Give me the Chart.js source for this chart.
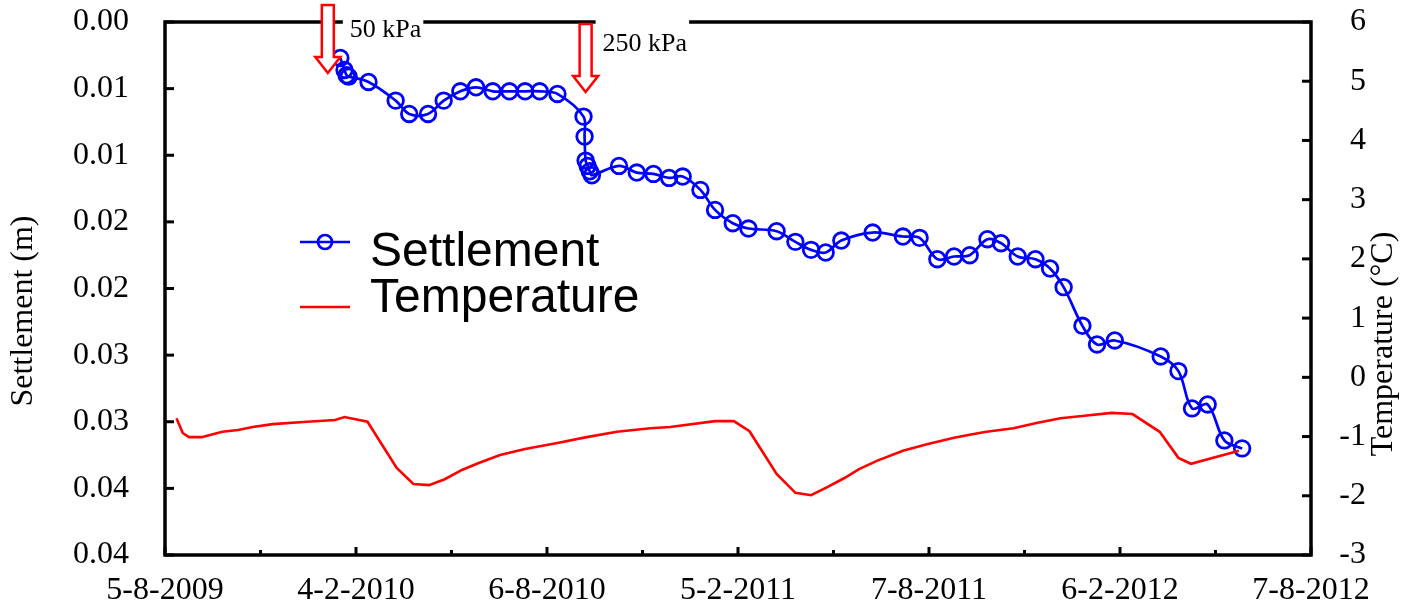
<!DOCTYPE html>
<html>
<head>
<meta charset="utf-8">
<script src="https://cdn.jsdelivr.net/npm/chart.js@4/dist/chart.umd.min.js"></script>
<style>
  html, body { margin: 0; padding: 0; background: #ffffff; }
  canvas { display: block; }
</style>
</head>
<body>
<canvas id="chart" width="1406" height="609"></canvas>
<script>
// ---- Data ---------------------------------------------------------------
const axisStart = '2009-08-05';
const axisEnd = '2012-08-07';
const xTickLabels = ['5-8-2009', '4-2-2010', '6-8-2010', '5-2-2011', '7-8-2011', '6-2-2012', '7-8-2012'];
const settlementTickLabels = ['0.00', '0.01', '0.01', '0.02', '0.02', '0.03', '0.03', '0.04', '0.04'];
const settlementStep = 0.005;

const settlementDates = [
  '2010-01-20', '2010-01-24', '2010-01-26', '2010-01-28', '2010-02-16', '2010-03-14', '2010-03-27',
  '2010-04-14', '2010-04-29', '2010-05-15', '2010-05-30', '2010-06-15', '2010-07-01', '2010-07-16',
  '2010-07-30', '2010-08-16', '2010-09-10', '2010-09-11', '2010-09-12', '2010-09-14', '2010-09-16',
  '2010-09-18', '2010-10-14', '2010-10-31', '2010-11-16', '2010-12-01', '2010-12-14', '2010-12-31',
  '2011-01-14', '2011-01-31', '2011-02-15', '2011-03-14', '2011-04-01', '2011-04-16', '2011-04-30',
  '2011-05-15', '2011-06-14', '2011-07-13', '2011-07-29', '2011-08-15', '2011-08-31', '2011-09-15',
  '2011-10-02', '2011-10-15', '2011-10-31', '2011-11-17', '2011-12-01', '2011-12-14', '2012-01-01',
  '2012-01-15', '2012-02-01', '2012-03-16', '2012-04-02', '2012-04-15', '2012-04-30', '2012-05-16',
  '2012-06-02'
];
const settlementValues = [
  0.0027, 0.0036, 0.0040, 0.0041, 0.0045, 0.0059, 0.0069,
  0.0069, 0.0059, 0.0052, 0.0049, 0.0052, 0.0052, 0.0052,
  0.0052, 0.0054, 0.0071, 0.0086, 0.0104, 0.0108, 0.0112,
  0.0115, 0.0108, 0.0113, 0.0114, 0.0117, 0.0116, 0.0126,
  0.0141, 0.0151, 0.0155, 0.0157, 0.0165, 0.0171, 0.0173,
  0.0164, 0.0158, 0.0161, 0.0162, 0.0178, 0.0176, 0.0175,
  0.0163, 0.0166, 0.0176, 0.0178, 0.0185, 0.0199, 0.0228,
  0.0242, 0.0239, 0.0251, 0.0262, 0.0290, 0.0287, 0.0314,
  0.0320
];

const temperatureDates = [
  '2009-08-16', '2009-08-22', '2009-08-28', '2009-09-09', '2009-09-29', '2009-10-14', '2009-10-28',
  '2009-11-16', '2009-12-19', '2010-01-15', '2010-01-24', '2010-02-15', '2010-03-15', '2010-03-31',
  '2010-04-15', '2010-04-30', '2010-05-17', '2010-06-01', '2010-06-22', '2010-07-16', '2010-08-16',
  '2010-09-13', '2010-10-12', '2010-11-13', '2010-12-02', '2011-01-14', '2011-02-01', '2011-02-16',
  '2011-03-14', '2011-04-01', '2011-04-16', '2011-05-02', '2011-05-18', '2011-06-01', '2011-06-18',
  '2011-07-13', '2011-08-05', '2011-08-31', '2011-09-15', '2011-10-01', '2011-10-27', '2011-11-18',
  '2011-12-11', '2012-01-03', '2012-01-29', '2012-02-18', '2012-03-15', '2012-04-02', '2012-04-14',
  '2012-05-30'
];
const temperatureValues = [
  -0.69, -0.94, -1.01, -1.01, -0.92, -0.89, -0.84,
  -0.79, -0.75, -0.72, -0.67, -0.75, -1.53, -1.80,
  -1.82, -1.72, -1.56, -1.45, -1.31, -1.21, -1.11,
  -1.01, -0.92, -0.86, -0.84, -0.74, -0.74, -0.91,
  -1.63, -1.95, -1.99, -1.85, -1.70, -1.55, -1.41,
  -1.24, -1.13, -1.02, -0.97, -0.92, -0.86, -0.77,
  -0.69, -0.65, -0.60, -0.62, -0.92, -1.36, -1.46,
  -1.24
];

// Load increments applied to the foundation
const loadLabels = ['50 kPa', '250 kPa'];
const loadDates = ['2010-01-08', '2010-09-12'];

// ---- Helpers ------------------------------------------------------------
const DAY_MS = 86400000;
const dayOf = d => Math.round((Date.parse(d) - Date.parse(axisStart)) / DAY_MS);
const axisSpan = dayOf(axisEnd);                  // 1098 days
const halfStep = axisSpan / ((xTickLabels.length - 1) * 2);

const settlementPoints = settlementDates.map((d, i) => ({ x: dayOf(d), y: settlementValues[i] }));
const temperaturePoints = temperatureDates.map((d, i) => ({ x: dayOf(d), y: temperatureValues[i] }));

const SERIF = '"Liberation Serif", "Times New Roman", serif';
const SANS = '"Liberation Sans", Arial, sans-serif';
const BLUE = '#0000ff';
const RED = '#ff0000';

// fixed scale sizes, no label overhang padding
const fixSize = (w, h) => s => {
  if (w !== null) s.width = w;
  if (h !== null) s.height = h;
  s.paddingTop = 0; s.paddingBottom = 0; s.paddingLeft = 0; s.paddingRight = 0;
};

// Plot frame with inward tick marks
const framePlugin = {
  id: 'frame',
  beforeDatasetsDraw(chart) {
    const { ctx, chartArea: a, scales } = chart;
    const seg = (x1, y1, x2, y2) => { ctx.beginPath(); ctx.moveTo(x1, y1); ctx.lineTo(x2, y2); ctx.stroke(); };
    ctx.save();
    ctx.strokeStyle = '#000';
    ctx.lineWidth = 3;
    scales.x.ticks.forEach((t, i) => {
      const x = scales.x.getPixelForValue(t.value);
      seg(x, a.bottom, x, a.bottom - (i % 2 === 0 ? 8 : 5));
    });
    scales.y.ticks.forEach(t => {
      const y = scales.y.getPixelForValue(t.value);
      seg(a.left, y, a.left + 9, y);
    });
    scales.y1.ticks.forEach(t => {
      const y = scales.y1.getPixelForValue(t.value);
      seg(a.right, y, a.right - 9, y);
    });
    ctx.lineWidth = 3.5;
    ctx.lineJoin = 'miter';
    ctx.strokeRect(a.left, a.top, a.right - a.left, a.bottom - a.top);
    ctx.restore();
  }
};

// Axis titles, legend and load markers
const overlayPlugin = {
  id: 'overlay',
  afterDraw(chart) {
    const { ctx, chartArea: a, scales } = chart;
    ctx.save();

    // axis titles
    ctx.fillStyle = '#000';
    ctx.font = '32px ' + SERIF;
    ctx.textAlign = 'center';
    ctx.textBaseline = 'middle';
    ctx.save();
    ctx.translate(24, 311);
    ctx.rotate(-Math.PI / 2);
    ctx.fillText('Settlement (m)', 0, 0);
    ctx.restore();
    ctx.save();
    ctx.translate(1384, 344);
    ctx.rotate(-Math.PI / 2);
    ctx.fillText('Temperature (\u00B0C)', 0, 0);
    ctx.restore();

    // legend
    const lx = a.left + 135;
    ctx.lineWidth = 2.7;
    ctx.strokeStyle = BLUE;
    ctx.beginPath(); ctx.moveTo(lx, 242); ctx.lineTo(lx + 50, 242); ctx.stroke();
    ctx.beginPath(); ctx.arc(lx + 25, 242, 7, 0, Math.PI * 2); ctx.stroke();
    ctx.strokeStyle = RED;
    ctx.lineWidth = 2.5;
    ctx.beginPath(); ctx.moveTo(lx, 307); ctx.lineTo(lx + 50, 307); ctx.stroke();
    ctx.font = '48px ' + SANS;
    ctx.textAlign = 'left';
    ctx.textBaseline = 'alphabetic';
    ctx.fillStyle = '#000';
    ctx.fillText('Settlement', lx + 70, 266);
    ctx.fillText('Temperature', lx + 70, 312);

    // load arrows with labels
    const arrowTops = [-17, 2];
    const textY = [30, 44];
    const textGap = [22, 17];
    loadLabels.forEach((label, i) => {
      const x = scales.x.getPixelForValue(dayOf(loadDates[i]));
      const top = a.top + arrowTops[i];
      ctx.font = '26px ' + SERIF;
      const w = ctx.measureText(label).width;
      // label box breaking the top frame line
      ctx.fillStyle = '#fff';
      ctx.fillRect(x + textGap[i] - 7, a.top - 6, w + 9, textY[i] - a.top + 18);
      ctx.fillStyle = '#000';
      ctx.textBaseline = 'middle';
      ctx.fillText(label, x + textGap[i], textY[i]);
      // hollow arrow
      const sw = 6, hw = 12.5, shaftLen = 52, headLen = 16;
      ctx.beginPath();
      ctx.moveTo(x - sw, top);
      ctx.lineTo(x + sw, top);
      ctx.lineTo(x + sw, top + shaftLen);
      ctx.lineTo(x + hw, top + shaftLen);
      ctx.lineTo(x, top + shaftLen + headLen);
      ctx.lineTo(x - hw, top + shaftLen);
      ctx.lineTo(x - sw, top + shaftLen);
      ctx.closePath();
      ctx.fillStyle = '#fff';
      ctx.fill();
      ctx.lineWidth = 2.5;
      ctx.strokeStyle = RED;
      ctx.lineJoin = 'miter';
      ctx.stroke();
    });
    ctx.restore();
  }
};

new Chart(document.getElementById('chart'), {
  type: 'line',
  data: {
    datasets: [
      {
        label: 'Temperature',
        data: temperaturePoints,
        yAxisID: 'y1',
        borderColor: RED,
        borderWidth: 2.6,
        pointRadius: 0,
        tension: 0,
        fill: false,
        order: 0
      },
      {
        label: 'Settlement',
        data: settlementPoints,
        yAxisID: 'y',
        borderColor: BLUE,
        borderWidth: 2.7,
        pointStyle: 'circle',
        pointRadius: 7.8,
        pointBorderWidth: 2.8,
        pointBorderColor: BLUE,
        pointBackgroundColor: 'rgba(0,0,0,0)',
        tension: 0.35,
        fill: false,
        order: 1
      }
    ]
  },
  options: {
    responsive: false,
    animation: false,
    devicePixelRatio: 1,
    layout: { autoPadding: false, padding: { top: 22, right: 40, bottom: 0, left: 0 } },
    plugins: {
      legend: { display: false },
      tooltip: { enabled: false }
    },
    scales: {
      x: {
        type: 'linear',
        min: 0,
        max: axisSpan,
        grid: { display: false, drawTicks: false },
        border: { display: false },
        ticks: {
          stepSize: halfStep,
          autoSkip: false,
          maxRotation: 0,
          padding: 16,
          color: '#000',
          font: { family: SERIF, size: 32 },
          callback: (v, i) => (i % 2 === 0 ? xTickLabels[i / 2] : '')
        },
        afterFit: fixSize(null, 54)
      },
      y: {
        type: 'linear',
        position: 'left',
        reverse: true,
        min: 0,
        max: 0.04,
        grid: { display: false, drawTicks: false },
        border: { display: false },
        ticks: {
          stepSize: settlementStep,
          padding: 36,
          color: '#000',
          font: { family: SERIF, size: 32 },
          callback: v => settlementTickLabels[Math.round(v / settlementStep)]
        },
        afterFit: fixSize(165, null)
      },
      y1: {
        type: 'linear',
        position: 'right',
        min: -3,
        max: 6,
        grid: { display: false, drawTicks: false },
        border: { display: false },
        ticks: {
          stepSize: 1,
          crossAlign: 'far',
          padding: 29,
          color: '#000',
          font: { family: SERIF, size: 32 },
          callback: v => String(v)
        },
        afterFit: fixSize(55, null)
      }
    }
  },
  plugins: [framePlugin, overlayPlugin]
});
</script>
</body>
</html>
